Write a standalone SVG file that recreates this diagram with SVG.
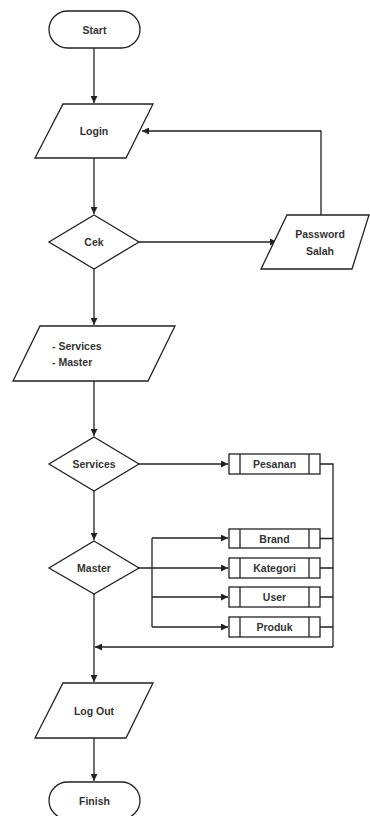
<svg xmlns="http://www.w3.org/2000/svg" width="370" height="816" viewBox="0 0 370 816">
<style>
.s{fill:#fff;stroke:#222;stroke-width:1.3}
.c{fill:none;stroke:#222;stroke-width:1.3}
.t{font-family:"Liberation Sans",Arial,sans-serif;font-size:10.5px;font-weight:bold;fill:#333;text-anchor:middle}
.l{text-anchor:start}
</style>
<defs>
<marker id="a" viewBox="0 0 10 10" refX="10" refY="5" markerWidth="7" markerHeight="7" markerUnits="userSpaceOnUse" orient="auto">
<path d="M0,0L10,5L0,10z" fill="#222"/>
</marker>
</defs>
<g id="connectors">
<path class="c" d="M94,48V103" marker-end="url(#a)"/>
<path class="c" d="M94,158V214" marker-end="url(#a)"/>
<path class="c" d="M139,242H277" marker-end="url(#a)"/>
<path class="c" d="M321,215V131H142" marker-end="url(#a)"/>
<path class="c" d="M94,269V325" marker-end="url(#a)"/>
<path class="c" d="M94,381V436" marker-end="url(#a)"/>
<path class="c" d="M139,464H228" marker-end="url(#a)"/>
<path class="c" d="M94,491V540" marker-end="url(#a)"/>
<path class="c" d="M139,568H228" marker-end="url(#a)"/>
<path class="c" d="M152,538H228" marker-end="url(#a)"/>
<path class="c" d="M152,597H228" marker-end="url(#a)"/>
<path class="c" d="M152,627H228" marker-end="url(#a)"/>
<path class="c" d="M152,538V627"/>
<path class="c" d="M320,464H333V647"/>
<path class="c" d="M320,538.5H333M320,568H333M320,597H333M320,627H333"/>
<path class="c" d="M333,647H95" marker-end="url(#a)"/>
<path class="c" d="M94,594V682" marker-end="url(#a)"/>
<path class="c" d="M94,738V781" marker-end="url(#a)"/>
</g>
<g id="start">
<rect class="s" x="49" y="11" width="91" height="37" rx="18.5"/>
<text class="t" x="94.5" y="33.5">Start</text>
</g>
<g id="login">
<polygon class="s" points="63,104 153,104 126,158 35,158"/>
<text class="t" x="94" y="135">Login</text>
</g>
<g id="cek">
<polygon class="s" points="94,215 139,242 94,269 49,242"/>
<text class="t" x="94" y="246">Cek</text>
</g>
<g id="password-salah">
<polygon class="s" points="287,215 369,215 352,269 261,269"/>
<text class="t" x="320" y="238">Password</text>
<text class="t" x="320" y="255">Salah</text>
</g>
<g id="menu">
<polygon class="s" points="40,326 175,326 148,381 13,381"/>
<text class="t l" x="52" y="350">- Services</text>
<text class="t l" x="52" y="366">- Master</text>
</g>
<g id="services">
<polygon class="s" points="94,437 139,464 94,491 49,464"/>
<text class="t" x="94" y="468">Services</text>
</g>
<g id="pesanan">
<rect class="s" x="229" y="454" width="91" height="20"/>
<path class="c" d="M240,454V474M309,454V474"/>
<text class="t" x="274.5" y="468">Pesanan</text>
</g>
<g id="master">
<polygon class="s" points="94,541 139,568 94,594 49,568"/>
<text class="t" x="94" y="572">Master</text>
</g>
<g id="brand">
<rect class="s" x="229" y="529" width="91" height="19"/>
<path class="c" d="M240,529V548M309,529V548"/>
<text class="t" x="274.5" y="542.5">Brand</text>
</g>
<g id="kategori">
<rect class="s" x="229" y="558" width="91" height="20"/>
<path class="c" d="M240,558V578M309,558V578"/>
<text class="t" x="274.5" y="572">Kategori</text>
</g>
<g id="user">
<rect class="s" x="229" y="587" width="91" height="20"/>
<path class="c" d="M240,587V607M309,587V607"/>
<text class="t" x="274.5" y="601">User</text>
</g>
<g id="produk">
<rect class="s" x="229" y="617" width="91" height="20"/>
<path class="c" d="M240,617V637M309,617V637"/>
<text class="t" x="274.5" y="631">Produk</text>
</g>
<g id="logout">
<polygon class="s" points="63,683 153,683 126,738 35,738"/>
<text class="t" x="94" y="714.5">Log Out</text>
</g>
<g id="finish">
<rect class="s" x="49" y="782" width="91" height="37" rx="18.5"/>
<text class="t" x="94.5" y="804.5">Finish</text>
</g>
</svg>
